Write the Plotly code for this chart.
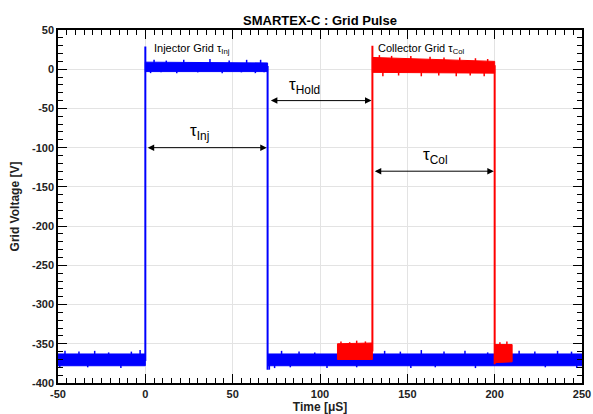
import plotly.graph_objects as go

# ---------------- data ----------------
# noise bands: segment start/end time, lower & upper envelope at start/end
blue_band_t0 = [-50, 0, 70]
blue_band_t1 = [0, 70, 250]
blue_band_lo0 = [-378, -3, -378]
blue_band_lo1 = [-378, -3, -378]
blue_band_hi0 = [-363, 9, -363]
blue_band_hi1 = [-363, 8, -363]

red_band_t0 = [110, 130, 200]
red_band_t1 = [130, 200, 210]
red_band_lo0 = [-370, -4, -374]
red_band_lo1 = [-370, -5, -373]
red_band_hi0 = [-350, 15, -351]
red_band_hi1 = [-349, 10, -351]

# switching edges: time, start value, end value (incl. overshoot)
blue_edge_t = [0, 70]
blue_edge_from = [-372, 4]
blue_edge_to = [29, -383]
red_edge_t = [130, 200]
red_edge_from = [-360, 5]
red_edge_to = [30, -376]

# noise spikes: time, tip value
blue_spike_t = [-46, -38, -29, -21, -8, -3, 78, 88, 97, 113, 127, 137, 146, 158, 171, 183,
                196, 214, 223, 236, 244,
                -49, -33, -14, 71, 74, 83, 104, 121, 152, 166, 189, 229, 247,
                5, 12, 22, 37, 48, 58, 66,
                3, 9, 18, 30, 44, 55, 63, 68]
blue_spike_v = [-359, -360, -359, -361, -360, -358, -359, -360, -361, -359, -360, -359, -360,
                -358, -360, -359, -361, -359, -360, -359, -360,
                -381, -380, -381, -383, -381, -380, -381, -380, -381, -380, -381, -380, -381,
                12, 11, 12, 13, 11, 12, 12,
                -5, -4, -5, -4, -5, -4, -5, -4]
red_spike_t = [112, 117, 121, 126, 134, 141, 152, 163, 171, 180, 189, 196, 203, 207,
               136, 145, 158, 168, 178, 186, 194]
red_spike_v = [-347, -348, -346, -347, 18, 17, 17, 16, 15, 15, 14, 13, -348, -347,
               -9, -8, -9, -8, -9, -8, -9]

x_ticks = [-50, 0, 50, 100, 150, 200, 250]
y_ticks = [50, 0, -50, -100, -150, -200, -250, -300, -350, -400]

BLUE = "#0000ff"
RED = "#ff0000"
FONT = "Liberation Sans, Arial, sans-serif"

fig = go.Figure()


def add_bands(t0s, t1s, lo0, lo1, hi0, hi1, color):
    for a, b, l0, l1, h0, h1 in zip(t0s, t1s, lo0, lo1, hi0, hi1):
        fig.add_trace(go.Scatter(x=[a, b, b, a, a], y=[l0, l1, h1, h0, l0],
                                 fill="toself", fillcolor=color, mode="lines",
                                 line=dict(color=color, width=1),
                                 hoverinfo="skip", showlegend=False))


def band_mid(t, t0s, t1s, lo0, lo1, hi0, hi1):
    for a, b, l0, l1, h0, h1 in zip(t0s, t1s, lo0, lo1, hi0, hi1):
        if a <= t <= b:
            f = (t - a) / (b - a)
            return ((l0 + (l1 - l0) * f) + (h0 + (h1 - h0) * f)) / 2
    return None


def add_spikes(ts, vs, bands, color):
    xs, ys = [], []
    for t, v in zip(ts, vs):
        m = band_mid(t, *bands)
        xs += [t, t, None]
        ys += [m, v, None]
    fig.add_trace(go.Scatter(x=xs, y=ys, mode="lines", line=dict(color=color, width=1.5),
                             hoverinfo="skip", showlegend=False))


def add_edges(ts, a, b, color):
    xs, ys = [], []
    for t, f, e in zip(ts, a, b):
        xs += [t, t, None]
        ys += [f, e, None]
    fig.add_trace(go.Scatter(x=xs, y=ys, mode="lines", line=dict(color=color, width=2),
                             hoverinfo="skip", showlegend=False))


blue_bands = (blue_band_t0, blue_band_t1, blue_band_lo0, blue_band_lo1, blue_band_hi0, blue_band_hi1)
red_bands = (red_band_t0, red_band_t1, red_band_lo0, red_band_lo1, red_band_hi0, red_band_hi1)

add_bands(*blue_bands, BLUE)
add_spikes(blue_spike_t, blue_spike_v, blue_bands, BLUE)
add_edges(blue_edge_t, blue_edge_from, blue_edge_to, BLUE)
add_bands(*red_bands, RED)
add_spikes(red_spike_t, red_spike_v, red_bands, RED)
add_edges(red_edge_t, red_edge_from, red_edge_to, RED)

# double arrows
for (xa, xb, yv) in [(0.5, 69.5, -100), (71, 129.5, -40), (130.5, 199.5, -130)]:
    fig.add_annotation(x=xb, y=yv, ax=xa, ay=yv, xref="x", yref="y", axref="x", ayref="y",
                       text="", showarrow=True, arrowhead=2, startarrowhead=2,
                       arrowside="end+start", arrowsize=1.3, startarrowsize=1.3,
                       arrowwidth=1, arrowcolor="black", standoff=0, startstandoff=0)

lab_font = dict(family=FONT, color="black")
fig.add_annotation(x=31, y=-80, text="τ<sub>Inj</sub>", showarrow=False,
                   font=dict(size=17, **lab_font))
fig.add_annotation(x=91, y=-22, text="τ<sub>Hold</sub>", showarrow=False,
                   font=dict(size=17, **lab_font))
fig.add_annotation(x=166, y=-110, text="τ<sub>Col</sub>", showarrow=False,
                   font=dict(size=17, **lab_font))
fig.add_annotation(x=4, y=26, text="Injector Grid τ<sub>Inj</sub>", showarrow=False,
                   xanchor="left", font=dict(size=11, **lab_font))
fig.add_annotation(x=132, y=26, text="Collector Grid τ<sub>Col</sub>", showarrow=False,
                   xanchor="left", font=dict(size=11, **lab_font))

axis_common = dict(showline=True, linecolor="black", linewidth=1.5, mirror="allticks",
                   ticks="inside", ticklen=9, tickwidth=1.2, tickcolor="black",
                   showgrid=True, gridcolor="#e3e3e3", gridwidth=1, zeroline=False,
                   automargin=False,
                   tickfont=dict(family=FONT, size=11, color="#222", weight="bold"))

fig.update_xaxes(range=[-50, 250], tickvals=x_ticks, ticktext=[str(v) for v in x_ticks],
                 minor=dict(dtick=5, ticks="inside", ticklen=5, tickcolor="black",
                            tickwidth=1, showgrid=False),
                 title=dict(text="Time [μS]", standoff=2,
                            font=dict(family=FONT, size=12, color="#222", weight="bold")),
                 **axis_common)
fig.update_yaxes(range=[-400, 50], tickvals=y_ticks, ticktext=[str(v) for v in y_ticks],
                 minor=dict(dtick=10, ticks="inside", ticklen=5, tickcolor="black",
                            tickwidth=1, showgrid=False),
                 title=dict(text="Grid Voltage [V]", standoff=10,
                            font=dict(family=FONT, size=12, color="#222", weight="bold")),
                 **axis_common)

fig.update_layout(
    width=593, height=414,
    margin=dict(l=58, r=11, t=30, b=31),
    paper_bgcolor="white", plot_bgcolor="white",
    showlegend=False,
    title=dict(text="SMARTEX-C : Grid Pulse", x=0.5396, xanchor="center",
               y=1 - 20 / 414, yanchor="middle", yref="container",
               font=dict(family=FONT, size=13, color="black", weight="bold")),
)

fig.write_html("out.html")
